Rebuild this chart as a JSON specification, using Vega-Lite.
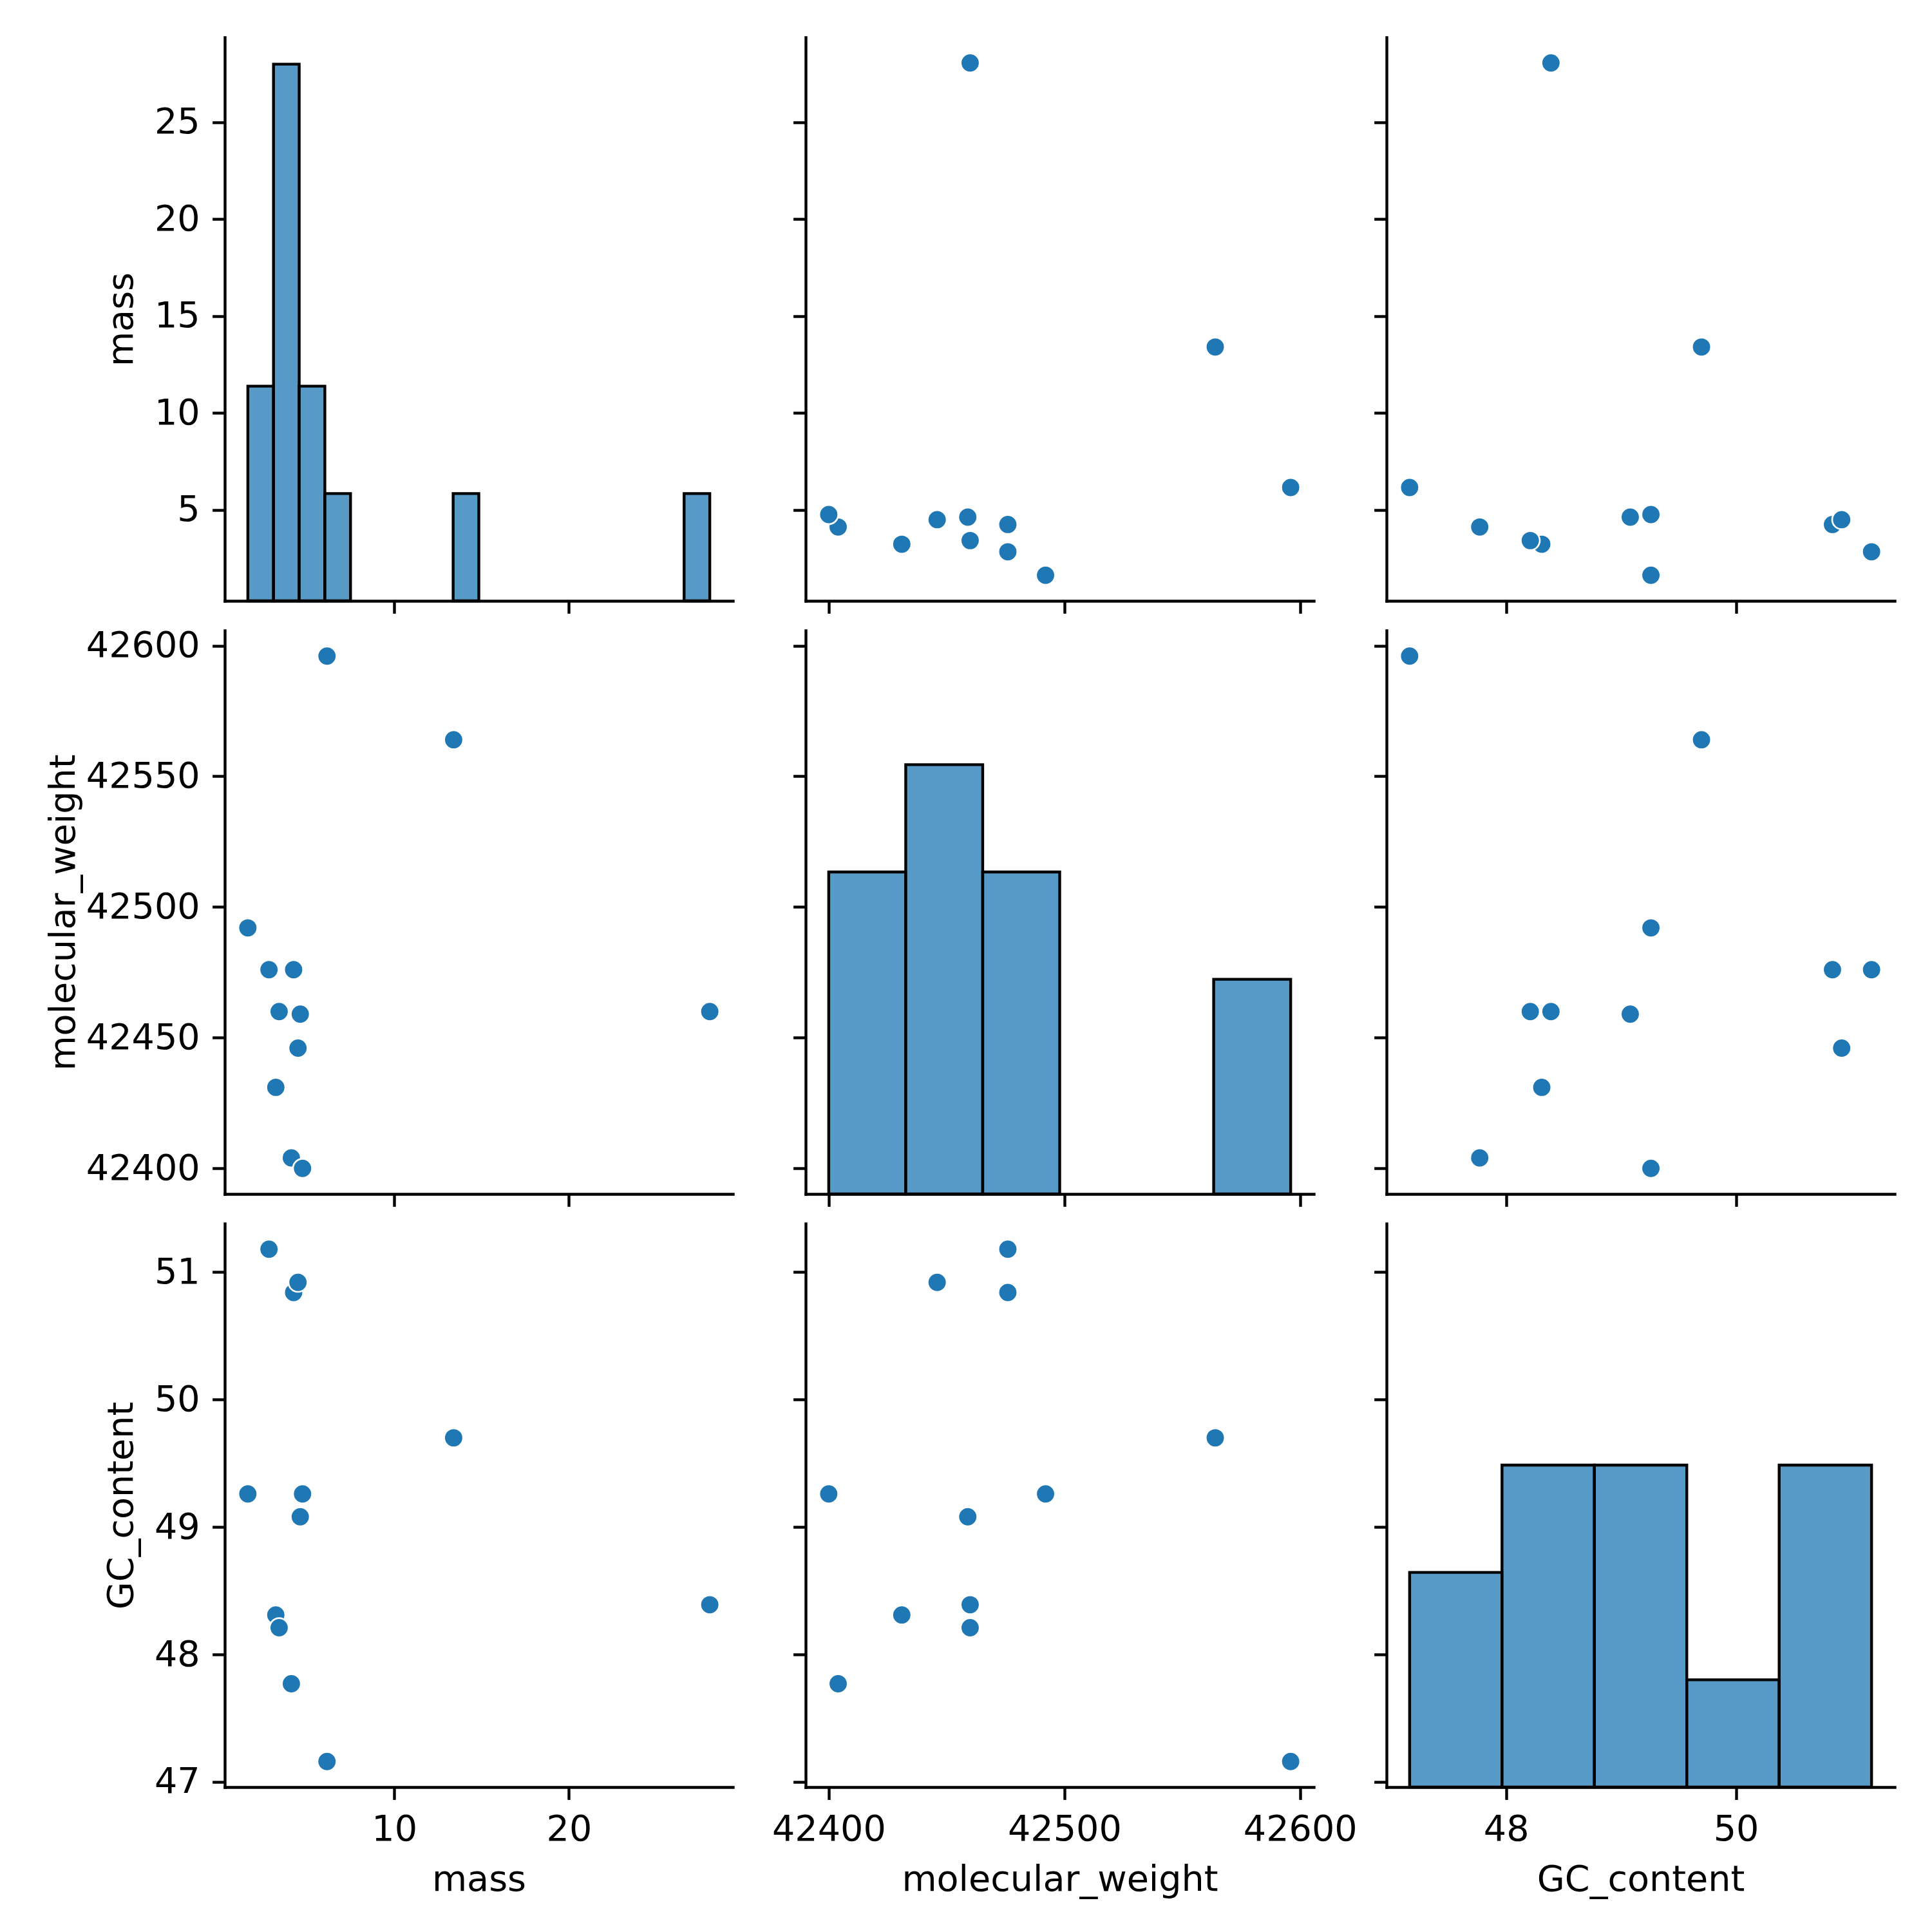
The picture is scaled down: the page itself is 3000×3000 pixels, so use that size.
{
  "$schema": "https://vega.github.io/schema/vega-lite/v6.json",
  "autosize": {"type": "pad"},
  "padding": {"left": 71, "top": 58, "right": 20, "bottom": 30},
  "background": "white",
  "datasets": {
    "pts": [
      {"mass": 1.62, "molecular_weight": 42492, "GC_content": 49.26},
      {"mass": 2.83, "molecular_weight": 42476, "GC_content": 51.18},
      {"mass": 3.22, "molecular_weight": 42431, "GC_content": 48.31},
      {"mass": 3.41, "molecular_weight": 42460, "GC_content": 48.21},
      {"mass": 4.11, "molecular_weight": 42404, "GC_content": 47.77},
      {"mass": 4.24, "molecular_weight": 42476, "GC_content": 50.84},
      {"mass": 4.49, "molecular_weight": 42446, "GC_content": 50.92},
      {"mass": 4.62, "molecular_weight": 42459, "GC_content": 49.08},
      {"mass": 4.75, "molecular_weight": 42400, "GC_content": 49.26},
      {"mass": 6.15, "molecular_weight": 42596, "GC_content": 47.16},
      {"mass": 13.4, "molecular_weight": 42564, "GC_content": 49.70},
      {"mass": 28.06, "molecular_weight": 42460, "GC_content": 48.39}
    ],
    "h_mass": [
      {"x0": 1.62, "x1": 3.089, "count": 2},
      {"x0": 3.089, "x1": 4.558, "count": 5},
      {"x0": 4.558, "x1": 6.027, "count": 2},
      {"x0": 6.027, "x1": 7.496, "count": 1},
      {"x0": 13.371, "x1": 14.840, "count": 1},
      {"x0": 26.591, "x1": 28.06, "count": 1}
    ],
    "h_mw": [
      {"x0": 42400, "x1": 42432.67, "count": 3},
      {"x0": 42432.67, "x1": 42465.33, "count": 4},
      {"x0": 42465.33, "x1": 42498, "count": 3},
      {"x0": 42563.33, "x1": 42596, "count": 2}
    ],
    "h_gc": [
      {"x0": 47.16, "x1": 47.964, "count": 2},
      {"x0": 47.964, "x1": 48.768, "count": 3},
      {"x0": 48.768, "x1": 49.572, "count": 3},
      {"x0": 49.572, "x1": 50.376, "count": 1},
      {"x0": 50.376, "x1": 51.18, "count": 3}
    ]
  },
  "columns": 3,
  "spacing": {"row": 46, "column": 113},
  "bounds": "flush",
  "concat": [
    {
      "width": 789, "height": 875,
      "layer": [
        {
          "data": {"name": "h_mass"},
          "mark": {"type": "bar", "fill": "#1f77b4", "fillOpacity": 0.75, "stroke": "black", "strokeWidth": 4.4},
          "encoding": {
            "x": {"field": "x0", "type": "quantitative", "scale": {"domain": [0.298, 29.382], "nice": false, "zero": false}, "axis": {"values": [10, 20], "labels": false, "title": null}},
            "x2": {"field": "x1"},
            "y": {"field": "count", "type": "quantitative", "scale": {"domain": [0, 5.25], "nice": false, "zero": true}, "axis": null},
            "y2": {"datum": 0}
          }
        },
        {
          "data": {"name": "pts"},
          "mark": {"type": "point", "opacity": 0},
          "encoding": {
            "x": {"field": "mass", "type": "quantitative", "scale": {"domain": [0.298, 29.382], "nice": false, "zero": false}, "axis": {"values": [10, 20], "labels": false, "title": null}},
            "y": {"field": "mass", "type": "quantitative", "scale": {"domain": [0.298, 29.382], "nice": false, "zero": false}, "axis": {"orient": "left", "values": [5, 10, 15, 20, 25], "title": "mass"}}
          }
        }
      ],
      "resolve": {"scale": {"y": "independent"}}
    },
    {
      "width": 789, "height": 875,
      "data": {"name": "pts"},
      "mark": {"type": "point", "filled": true, "fill": "#1f77b4", "fillOpacity": 1, "stroke": "white", "strokeWidth": 2.67, "size": 873, "opacity": 1},
      "encoding": {
        "x": {"field": "molecular_weight", "type": "quantitative", "scale": {"domain": [42390.2, 42605.8], "nice": false, "zero": false}, "axis": {"values": [42400, 42500, 42600], "labels": false, "title": null}},
        "y": {"field": "mass", "type": "quantitative", "scale": {"domain": [0.298, 29.382], "nice": false, "zero": false}, "axis": {"values": [5, 10, 15, 20, 25], "labels": false, "title": null}}
      }
    },
    {
      "width": 789, "height": 875,
      "data": {"name": "pts"},
      "mark": {"type": "point", "filled": true, "fill": "#1f77b4", "fillOpacity": 1, "stroke": "white", "strokeWidth": 2.67, "size": 873, "opacity": 1},
      "encoding": {
        "x": {"field": "GC_content", "type": "quantitative", "scale": {"domain": [46.959, 51.381], "nice": false, "zero": false}, "axis": {"values": [48, 50], "labels": false, "title": null}},
        "y": {"field": "mass", "type": "quantitative", "scale": {"domain": [0.298, 29.382], "nice": false, "zero": false}, "axis": {"values": [5, 10, 15, 20, 25], "labels": false, "title": null}}
      }
    },
    {
      "width": 789, "height": 875,
      "data": {"name": "pts"},
      "mark": {"type": "point", "filled": true, "fill": "#1f77b4", "fillOpacity": 1, "stroke": "white", "strokeWidth": 2.67, "size": 873, "opacity": 1},
      "encoding": {
        "x": {"field": "mass", "type": "quantitative", "scale": {"domain": [0.298, 29.382], "nice": false, "zero": false}, "axis": {"values": [10, 20], "labels": false, "title": null}},
        "y": {"field": "molecular_weight", "type": "quantitative", "scale": {"domain": [42390.2, 42605.8], "nice": false, "zero": false}, "axis": {"values": [42400, 42450, 42500, 42550, 42600], "format": "d", "title": "molecular_weight"}}
      }
    },
    {
      "width": 789, "height": 875,
      "layer": [
        {
          "data": {"name": "h_mw"},
          "mark": {"type": "bar", "fill": "#1f77b4", "fillOpacity": 0.75, "stroke": "black", "strokeWidth": 4.4},
          "encoding": {
            "x": {"field": "x0", "type": "quantitative", "scale": {"domain": [42390.2, 42605.8], "nice": false, "zero": false}, "axis": {"values": [42400, 42500, 42600], "labels": false, "title": null}},
            "x2": {"field": "x1"},
            "y": {"field": "count", "type": "quantitative", "scale": {"domain": [0, 5.25], "nice": false, "zero": true}, "axis": null},
            "y2": {"datum": 0}
          }
        },
        {
          "data": {"name": "pts"},
          "mark": {"type": "point", "opacity": 0},
          "encoding": {
            "x": {"field": "molecular_weight", "type": "quantitative", "scale": {"domain": [42390.2, 42605.8], "nice": false, "zero": false}, "axis": {"values": [42400, 42500, 42600], "labels": false, "title": null}},
            "y": {"field": "molecular_weight", "type": "quantitative", "scale": {"domain": [42390.2, 42605.8], "nice": false, "zero": false}, "axis": {"orient": "left", "values": [42400, 42450, 42500, 42550, 42600], "labels": false, "title": null}}
          }
        }
      ],
      "resolve": {"scale": {"y": "independent"}}
    },
    {
      "width": 789, "height": 875,
      "data": {"name": "pts"},
      "mark": {"type": "point", "filled": true, "fill": "#1f77b4", "fillOpacity": 1, "stroke": "white", "strokeWidth": 2.67, "size": 873, "opacity": 1},
      "encoding": {
        "x": {"field": "GC_content", "type": "quantitative", "scale": {"domain": [46.959, 51.381], "nice": false, "zero": false}, "axis": {"values": [48, 50], "labels": false, "title": null}},
        "y": {"field": "molecular_weight", "type": "quantitative", "scale": {"domain": [42390.2, 42605.8], "nice": false, "zero": false}, "axis": {"values": [42400, 42450, 42500, 42550, 42600], "labels": false, "title": null}}
      }
    },
    {
      "width": 789, "height": 875,
      "data": {"name": "pts"},
      "mark": {"type": "point", "filled": true, "fill": "#1f77b4", "fillOpacity": 1, "stroke": "white", "strokeWidth": 2.67, "size": 873, "opacity": 1},
      "encoding": {
        "x": {"field": "mass", "type": "quantitative", "scale": {"domain": [0.298, 29.382], "nice": false, "zero": false}, "axis": {"values": [10, 20], "title": "mass"}},
        "y": {"field": "GC_content", "type": "quantitative", "scale": {"domain": [46.959, 51.381], "nice": false, "zero": false}, "axis": {"values": [47, 48, 49, 50, 51], "title": "GC_content"}}
      }
    },
    {
      "width": 789, "height": 875,
      "data": {"name": "pts"},
      "mark": {"type": "point", "filled": true, "fill": "#1f77b4", "fillOpacity": 1, "stroke": "white", "strokeWidth": 2.67, "size": 873, "opacity": 1},
      "encoding": {
        "x": {"field": "molecular_weight", "type": "quantitative", "scale": {"domain": [42390.2, 42605.8], "nice": false, "zero": false}, "axis": {"values": [42400, 42500, 42600], "format": "d", "title": "molecular_weight"}},
        "y": {"field": "GC_content", "type": "quantitative", "scale": {"domain": [46.959, 51.381], "nice": false, "zero": false}, "axis": {"values": [47, 48, 49, 50, 51], "labels": false, "title": null}}
      }
    },
    {
      "width": 789, "height": 875,
      "layer": [
        {
          "data": {"name": "h_gc"},
          "mark": {"type": "bar", "fill": "#1f77b4", "fillOpacity": 0.75, "stroke": "black", "strokeWidth": 4.4},
          "encoding": {
            "x": {"field": "x0", "type": "quantitative", "scale": {"domain": [46.959, 51.381], "nice": false, "zero": false}, "axis": {"values": [48, 50], "title": "GC_content"}},
            "x2": {"field": "x1"},
            "y": {"field": "count", "type": "quantitative", "scale": {"domain": [0, 5.25], "nice": false, "zero": true}, "axis": null},
            "y2": {"datum": 0}
          }
        },
        {
          "data": {"name": "pts"},
          "mark": {"type": "point", "opacity": 0},
          "encoding": {
            "x": {"field": "GC_content", "type": "quantitative", "scale": {"domain": [46.959, 51.381], "nice": false, "zero": false}, "axis": {"values": [48, 50], "title": "GC_content"}},
            "y": {"field": "GC_content", "type": "quantitative", "scale": {"domain": [46.959, 51.381], "nice": false, "zero": false}, "axis": {"orient": "left", "values": [47, 48, 49, 50, 51], "labels": false, "title": null}}
          }
        }
      ],
      "resolve": {"scale": {"y": "independent"}}
    }
  ],
  "config": {
    "view": {"stroke": null},
    "font": "DejaVu Sans",
    "axis": {
      "grid": false,
      "domainColor": "black",
      "domainWidth": 4.4,
      "domainCap": "square",
      "tickColor": "black",
      "tickWidth": 4.4,
      "tickSize": 19.4,
      "labelFont": "DejaVu Sans",
      "labelFontSize": 55.6,
      "labelColor": "black",
      "labelPadding": 19.4,
      "labelFlush": false,
      "labelOverlap": false,
      "labelBound": false,
      "titleFont": "DejaVu Sans",
      "titleFontSize": 55.6,
      "titleFontWeight": "normal",
      "titleColor": "black",
      "titlePadding": 22
    }
  }
}
